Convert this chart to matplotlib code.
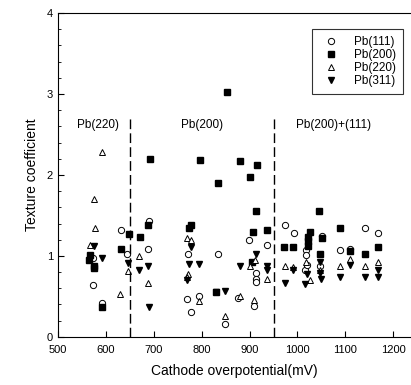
import numpy as np
import matplotlib.pyplot as plt

plt.rcParams['font.family'] = ['Liberation Sans', 'DejaVu Sans']

# -------------------------------------------------
# Daten
# -------------------------------------------------

x111 = [574, 574, 591, 632, 645, 687, 691, 770, 772, 777, 795, 834, 849, 876,
        899, 914, 914, 914, 909, 936, 973, 992, 1016, 1018, 1018, 1020, 1046,
        1051, 1089, 1109, 1140, 1168]
y111 = [0.97, 0.64, 0.42, 1.32, 1.03, 1.09, 1.43, 0.47, 1.02, 0.31, 0.50, 1.03,
        0.16, 0.48, 1.20, 0.79, 0.72, 0.68, 0.38, 1.14, 1.38, 1.28, 0.82, 1.07,
        1.01, 0.89, 0.87, 1.25, 1.07, 1.09, 1.35, 1.28]

x200 = [565, 567, 575, 575, 591, 631, 648, 671, 689, 692, 774, 777, 797, 829,
        835, 852, 880, 901, 905, 907, 914, 915, 936, 972, 990, 1022, 1022, 1022,
        1027, 1044, 1046, 1051, 1089, 1109, 1141, 1169]
y200 = [0.95, 1.01, 0.87, 0.85, 0.37, 1.09, 1.27, 1.24, 1.38, 2.20, 1.34, 1.38,
        2.19, 0.55, 1.90, 3.03, 2.17, 1.97, 0.93, 1.29, 1.56, 2.12, 1.32, 1.11,
        1.11, 1.24, 1.18, 1.12, 1.30, 1.56, 1.03, 1.22, 1.35, 1.06, 1.03, 1.11]

x220 = [567, 575, 577, 592, 630, 647, 670, 689, 770, 777, 772, 770, 795, 849,
        880, 900, 909, 912, 936, 974, 990, 1018, 1027, 1046, 1089, 1109, 1141,
        1169]
y220 = [1.14, 1.70, 1.35, 2.28, 0.53, 0.81, 1.00, 0.67, 1.22, 1.20, 0.78, 0.74,
        0.44, 0.26, 0.50, 0.87, 0.46, 0.95, 0.72, 0.87, 0.86, 0.93, 0.70, 0.82,
        0.87, 0.96, 0.88, 0.92]

x311 = [576, 591, 646, 670, 689, 690, 777, 774, 795, 770, 829, 849, 879, 913,
        936, 936, 973, 990, 1016, 1020, 1046, 1048, 1050, 1089, 1109, 1140,
        1168, 1169]
y311 = [1.12, 0.98, 0.91, 0.82, 0.88, 0.37, 1.11, 0.90, 0.90, 0.70, 0.56, 0.57,
        0.87, 1.03, 0.87, 0.83, 0.66, 0.83, 0.65, 0.78, 0.93, 0.79, 0.72, 0.74,
        0.89, 0.74, 0.74, 0.83]

grenzen = [650, 950]
bereiche = [(583, "Pb(220)"), (800, "Pb(200)"), (1075, "Pb(200)+(111)")]

# -------------------------------------------------
# Plot
# -------------------------------------------------

fig = plt.figure(figsize=(4.11, 3.85), dpi=100)
ax = fig.add_axes([0.141, 0.125, 0.859, 0.841])

ms = 4.5
ax.plot(x111, y111, 'o', mfc='white', mec='black', mew=0.7, ms=ms, ls='none', label='Pb(111)')
ax.plot(x200, y200, 's', color='black', ms=ms, ls='none', label='Pb(200)')
ax.plot(x220, y220, '^', mfc='white', mec='black', mew=0.7, ms=ms, ls='none', label='Pb(220)')
ax.plot(x311, y311, 'v', color='black', ms=ms, ls='none', label='Pb(311)')

for g in grenzen:
    ax.plot([g, g], [0, 2.7], color='black', lw=1, ls=(0, (7, 3)))

for xb, txt in bereiche:
    ax.text(xb, 2.62, txt, ha='center', va='center', fontsize=8.5)

ax.set_xlim(500, 1237)
ax.set_ylim(0, 4)
ax.set_xticks(np.arange(500, 1201, 100))
ax.set_yticks([0, 1, 2, 3, 4])
ax.set_yticks(np.arange(0, 4.01, 0.2), minor=True)
ax.tick_params(direction='in', labelsize=8, length=4)
ax.tick_params(axis='x', pad=6)
ax.tick_params(which='minor', direction='in', length=2)
ax.spines['right'].set_visible(False)

ax.set_xlabel("Cathode overpotential(mV)", fontsize=10, labelpad=6)
ax.set_ylabel("Texture coefficient", fontsize=10, labelpad=6)

leg = ax.legend(loc='upper right', bbox_to_anchor=(0.995, 0.97), fontsize=8.5,
                frameon=True, fancybox=False, edgecolor='black',
                handletextpad=1.0, borderpad=0.6, labelspacing=0.1)
leg.get_frame().set_linewidth(0.8)

fig.savefig("out.png", dpi=100)
